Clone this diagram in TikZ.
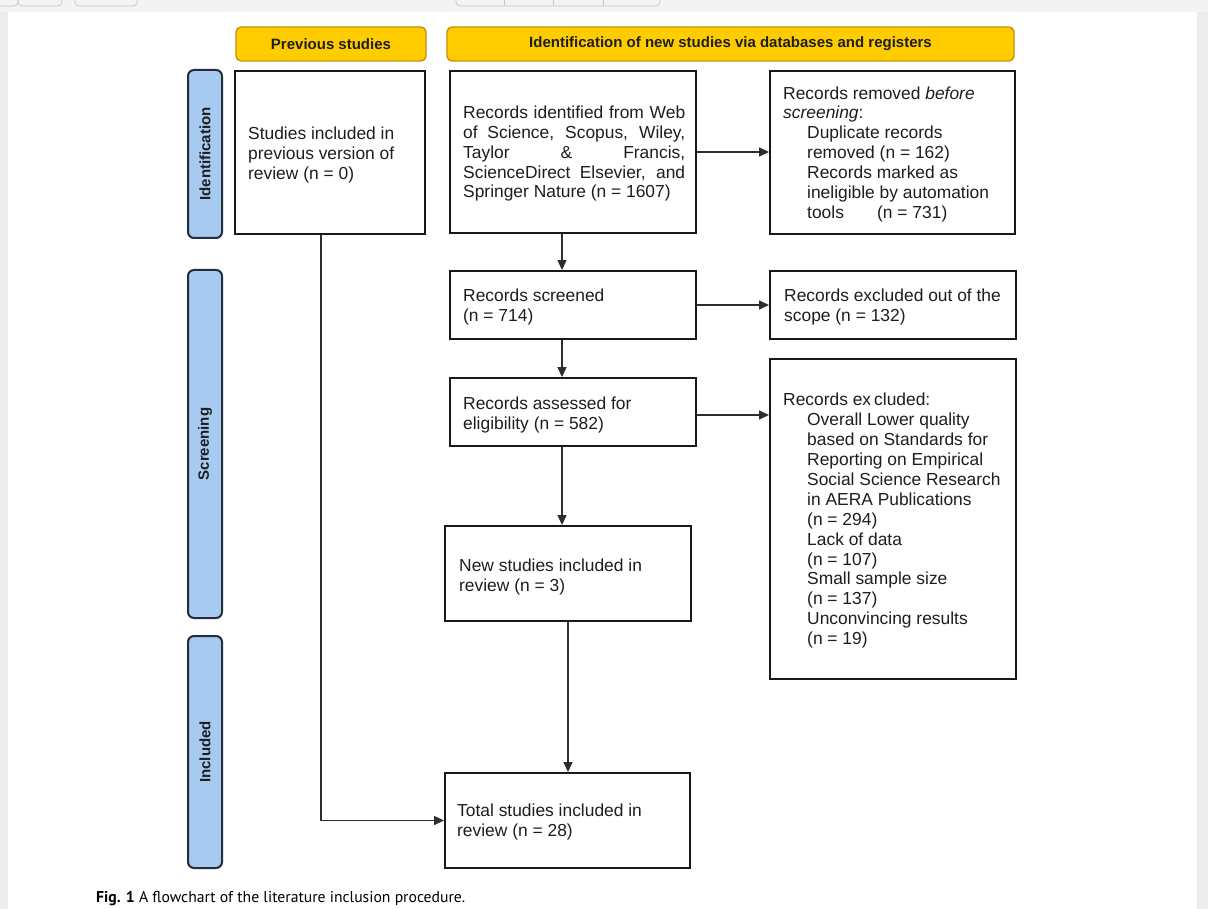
\documentclass[tikz,border=0pt]{standalone}
\usepackage{fontspec}
\setmainfont{Liberation Sans}
\newfontfamily\capfont{PT Sans}
\usetikzlibrary{arrows.meta}
\definecolor{hdryellow}{RGB}{255,204,0}
\definecolor{hdrborder}{RGB}{200,145,10}
\definecolor{sideblue}{RGB}{166,202,240}
\definecolor{sideline}{RGB}{35,45,60}
\definecolor{boxline}{RGB}{25,25,25}
\definecolor{arrline}{RGB}{45,45,45}
\definecolor{textcol}{RGB}{30,30,30}
\definecolor{bgstrip}{RGB}{236,236,236}
\definecolor{topstrip}{RGB}{243,243,243}
\definecolor{uigray}{RGB}{200,200,200}
\begin{document}
\begin{tikzpicture}[x=1pt,y=-1pt,
  box/.style={draw=boxline, line width=1.9pt, fill=white, inner sep=0pt},
  hdr/.style={draw=hdrborder, line width=1.4pt, fill=hdryellow, rounded corners=5pt, inner sep=0pt,
    font=\bfseries\fontsize{15}{17}\selectfont, text=textcol},
  side/.style={draw=sideline, line width=2pt, fill=sideblue, rounded corners=6pt, inner sep=0pt,
    rotate=90, minimum height=34pt, font=\bfseries\fontsize{15}{17}\selectfont, text=textcol},
  txt/.style={inner sep=0pt, align=left, anchor=west, text=textcol,
    font=\fontsize{17.4}{19.9}\selectfont},
  arr/.style={draw=arrline, line width=1.3pt, -{Triangle[length=10pt,width=9pt]}}]
\useasboundingbox (0,0) rectangle (1208,909);
% page background
\fill[bgstrip] (0,0) rectangle (1208,909);
\fill[topstrip] (0,0) rectangle (1208,12);
\fill[white] (8,12) rectangle (1197,909);
\draw[uigray, line width=0.8pt, rounded corners=4pt] (-10,-20) rectangle (18,6);
\draw[uigray, line width=0.8pt, rounded corners=4pt] (18,-20) rectangle (62,6);
\draw[uigray, line width=0.8pt, rounded corners=4pt] (75,-20) rectangle (137,6);
\draw[uigray, line width=0.8pt, rounded corners=4pt] (456,-20) rectangle (660,6);
\draw[uigray, line width=0.8pt] (504,-20) -- (504,6) (553,-20) -- (553,6) (603,-20) -- (603,6);
% headers
\node[hdr, minimum width=190pt, minimum height=34pt] (hP) at (331,44) {Previous studies};
\node[hdr, minimum width=567pt, minimum height=34pt] (hN) at (730.5,44) {Identification of new studies via databases and registers};
% side bars
\node[side, minimum width=168pt] (s1) at (205,154) {Identification};
\node[side, minimum width=348pt] (s2) at (205,444) {Screening};
\node[side, minimum width=232pt] (s3) at (205,752) {Included};
% boxes
\node[box, minimum width=190pt, minimum height=163pt] (A) at (330,152.5) {};
\node[box, minimum width=246pt, minimum height=162pt] (B) at (573,152) {};
\node[box, minimum width=245pt, minimum height=163pt] (C) at (892.5,152.5) {};
\node[box, minimum width=246pt, minimum height=68pt] (D) at (573,305) {};
\node[box, minimum width=246pt, minimum height=68pt] (E) at (893,305) {};
\node[box, minimum width=246pt, minimum height=68pt] (F) at (573,412) {};
\node[box, minimum width=246pt, minimum height=320pt] (G) at (893,519) {};
\node[box, minimum width=246pt, minimum height=95pt] (H) at (568,573.5) {};
\node[box, minimum width=245pt, minimum height=95pt] (I) at (567.5,820.5) {};
% texts
\node[txt] (tA) at (248,154.7) {Studies included in\\previous version of\\review (n = 0)};
\node[txt] (tB) at (463,153.7) {\makebox[222pt][s]{Records identified from Web}\\
  \makebox[222pt][s]{of Science, Scopus, Wiley,}\\
  \makebox[222pt][s]{Taylor \hfill \& \hfill Francis,}\\
  \makebox[222pt][s]{ScienceDirect Elsevier, and}\\
  Springer Nature (n = 1607)};
\node[txt] (tC) at (783,154.2) {Records removed \textit{before}\\\textit{screening}:\\
  \hspace*{24pt}Duplicate records\\
  \hspace*{24pt}removed (n = 162)\\
  \hspace*{24pt}Records marked as\\
  \hspace*{24pt}ineligible by automation\\
  \hspace*{24pt}\makebox[70pt][l]{tools}(n = 731)};
\node[txt] (tD) at (463,306.7) {Records screened\\(n = 714)};
\node[txt] (tE) at (784,306.7) {Records excluded out of the\\scope (n = 132)};
\node[txt] (tF) at (463,414.7) {Records assessed for\\eligibility (n = 582)};
\node[txt] (tG) at (783,520.7) {Records ex\kern3pt cluded:\\
  \hspace*{24pt}Overall Lower quality\\
  \hspace*{24pt}based on Standards for\\
  \hspace*{24pt}Reporting on Empirical\\
  \hspace*{24pt}Social Science Research\\
  \hspace*{24pt}in AERA Publications\\
  \hspace*{24pt}(n = 294)\\
  \hspace*{24pt}Lack of data\\
  \hspace*{24pt}(n = 107)\\
  \hspace*{24pt}Small sample size\\
  \hspace*{24pt}(n = 137)\\
  \hspace*{24pt}Unconvincing results\\
  \hspace*{24pt}(n = 19)};
\node[txt] (tH) at (459,576.7) {New studies included in\\review (n = 3)};
\node[txt] (tI) at (457,821.7) {Total studies included in\\review (n = 28)};
% connectors
\draw[arr] (B.east) -- (B.east -| C.west);
\draw[arr] ([xshift=-11pt]B.south) -- ([xshift=-11pt]D.north);
\draw[arr] (D.east) -- (E.west);
\draw[arr] ([xshift=-11pt]D.south) -- ([xshift=-11pt]F.north);
\draw[arr] ([yshift=-3pt]F.east) -- ([yshift=-3pt]F.east -| G.west);
\draw[arr] ([xshift=-11pt]F.south) -- ([xshift=-6pt]H.north);
\draw[arr] (H.south) -- (H.south |- I.north);
\draw[arr] ([xshift=-9pt]A.south) |- (I.west);
% caption
\node[anchor=base west, inner sep=0pt, font=\capfont\fontsize{15.7}{18}\selectfont, text=black] (cap) at (96,902)
  {\textbf{Fig. 1} A flowchart of the literature inclusion procedure.};
\end{tikzpicture}
\end{document}
